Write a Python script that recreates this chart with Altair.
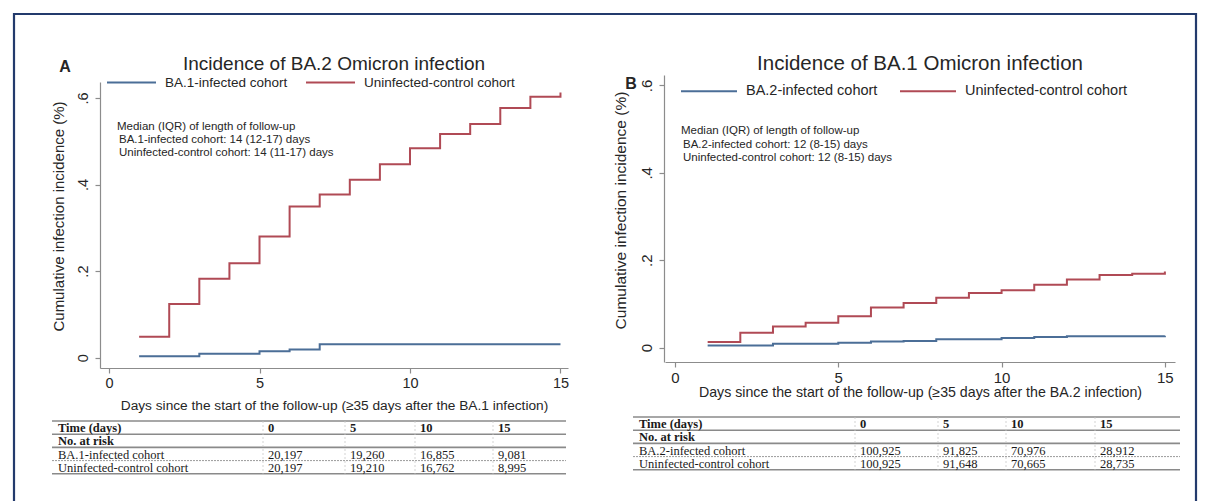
import altair as alt
import pandas as pd

W, H = 1206, 501
SANS = "Liberation Sans"
SERIF = "Liberation Serif"
BLUE = "#4b6e97"
RED = "#b04a55"
INK = "#262626"
AXIS = "#8c8c8c"
NAVY = "#233a6c"
TLINE = "#8a8a8a"

# ---------------- data ----------------
TITLE_A = "Incidence of BA.2 Omicron infection"
TITLE_B = "Incidence of BA.1 Omicron infection"
XTITLE_A = "Days since the start of the follow-up (≥35 days after the BA.1 infection)"
XTITLE_B = "Days since the start of the follow-up (≥35 days after the BA.2 infection)"
YTITLE = "Cumulative infection incidence (%)"

COH_A = ["BA.1-infected cohort", "Uninfected-control cohort"]
COH_B = ["BA.2-infected cohort", "Uninfected-control cohort"]

a_inf_days = [1, 3, 5, 6, 7, 15]
a_inf_inc = [0.003, 0.009, 0.015, 0.019, 0.031, 0.031]
a_ctl_days = [1, 2, 3, 4, 5, 6, 7, 8, 9, 10, 11, 12, 13, 14, 15]
a_ctl_inc = [0.048, 0.124, 0.182, 0.218, 0.280, 0.349, 0.377, 0.411, 0.447,
             0.484, 0.517, 0.540, 0.577, 0.603, 0.613]

b_inf_days = [1, 3, 5, 6, 7, 8, 10, 11, 12, 15]
b_inf_inc = [0.005, 0.009, 0.011, 0.014, 0.015, 0.019, 0.022, 0.024, 0.026, 0.027]
b_ctl_days = [1, 2, 3, 4, 5, 6, 7, 8, 9, 10, 11, 12, 13, 14, 15]
b_ctl_inc = [0.013, 0.034, 0.048, 0.057, 0.072, 0.092, 0.102, 0.114, 0.125,
             0.131, 0.144, 0.156, 0.166, 0.169, 0.174]

ANN_A = ["Median (IQR) of length of follow-up",
         "BA.1-infected cohort: 14 (12-17) days",
         "Uninfected-control cohort: 14 (11-17) days"]
ANN_B = ["Median (IQR) of length of follow-up",
         "BA.2-infected cohort: 12 (8-15) days",
         "Uninfected-control cohort: 12 (8-15) days"]

TAB_HEAD = ["Time (days)", "0", "5", "10", "15"]
TAB_SUB = "No. at risk"
risk_a_inf = ["20,197", "19,260", "16,855", "9,081"]
risk_a_ctl = ["20,197", "19,210", "16,762", "8,995"]
risk_b_inf = ["100,925", "91,825", "70,976", "28,912"]
risk_b_ctl = ["100,925", "91,648", "70,665", "28,735"]

ONE = pd.DataFrame({"k": [0]})


def series_df(d1, v1, d2, v2, names):
    return pd.concat([
        pd.DataFrame({"day": d1, "inc": v1, "cohort": names[0]}),
        pd.DataFrame({"day": d2, "inc": v2, "cohort": names[1]}),
    ], ignore_index=True)


def km_panel(df, names, xdom, xrng, ydom, yrng, x_axis_y, y_axis_x,
             xtitle, xtitle_y, ytitle_x, ytitle_y, leg_x, leg_y, fs, lfs, gap, sym):
    xax = alt.Axis(orient="bottom", offset=x_axis_y - H, values=[0, 5, 10, 15],
                   title=xtitle, grid=False, labelFlush=False,
                   labelFont=SANS, labelFontSize=fs + 0.5, labelColor=INK, labelPadding=3,
                   tickSize=5, tickColor=AXIS, tickWidth=1.2,
                   domainColor=AXIS, domainWidth=1.2,
                   titleFont=SANS, titleFontSize=fs - 0.3, titleFontWeight="normal",
                   titleColor=INK, titleY=xtitle_y - x_axis_y, titleBaseline="middle")
    yax = alt.Axis(orient="left", offset=-y_axis_x, values=[0, 0.2, 0.4, 0.6],
                   labelExpr="datum.value == 0 ? '0' : '.' + format(datum.value * 10, 'd')",
                   grid=False, labelAngle=270, labelAlign="center", labelBaseline="bottom",
                   labelFont=SANS, labelFontSize=fs + 0.5, labelColor=INK, labelPadding=5,
                   tickSize=5, tickColor=AXIS, tickWidth=1.2,
                   domainColor=AXIS, domainWidth=1.2,
                   title=YTITLE, titleFont=SANS, titleFontSize=fs + 1, titleFontWeight="normal",
                   titleColor=INK, titleAngle=270, titleAlign="center", titleBaseline="middle",
                   titleX=ytitle_x - y_axis_x, titleY=ytitle_y)
    leg = alt.Legend(orient="none", legendX=leg_x, legendY=leg_y, direction="horizontal",
                     title=None, symbolType="stroke", symbolSize=sym * sym, symbolStrokeWidth=2,
                     labelFont=SANS, labelFontSize=lfs, labelColor=INK, labelOffset=8,
                     labelLimit=0, columnPadding=gap, padding=0)
    return alt.Chart(df).mark_line(interpolate="step-after", strokeWidth=2).encode(
        x=alt.X("day:Q", scale=alt.Scale(domain=xdom, range=xrng, nice=False, zero=False), axis=xax),
        y=alt.Y("inc:Q", scale=alt.Scale(domain=ydom, range=yrng, nice=False, zero=False), axis=yax),
        color=alt.Color("cohort:N", scale=alt.Scale(domain=names, range=[BLUE, RED]), legend=leg),
    )


def text_at(txt, x, y, size, weight="normal", font=SANS, align="center", color=INK):
    return alt.Chart(pd.DataFrame({"t": [txt]})).mark_text(
        font=font, fontSize=size, fontWeight=weight, align=align, baseline="middle", color=color
    ).encode(x=alt.value(x), y=alt.value(y), text="t:N")


def rule_h(x1, x2, y, color, width, dash=None):
    kw = dict(color=color, strokeWidth=width)
    if dash:
        kw["strokeDash"] = dash
    return alt.Chart(ONE).mark_rule(**kw).encode(x=alt.value(x1), x2=alt.value(x2), y=alt.value(y))


def rule_v(x, y1, y2, color, width, dash=None):
    kw = dict(color=color, strokeWidth=width)
    if dash:
        kw["strokeDash"] = dash
    return alt.Chart(ONE).mark_rule(**kw).encode(x=alt.value(x), y=alt.value(y1), y2=alt.value(y2))


def table(left, right, col_x, seps, top, rh, r1_name, r1, r2, fs):
    rows = pd.DataFrame({
        "row": [0] * 5 + [1] + [2] * 5 + [3] * 5,
        "col": [0, 1, 2, 3, 4] + [0] + [0, 1, 2, 3, 4] * 2,
        "txt": TAB_HEAD + [TAB_SUB] + [r1_name] + r1 + [COH_A[1]] + r2,
        "bold": [1] * 6 + [0] * 10,
    })
    row0 = top + rh / 2 + 0.5
    yscale = alt.Scale(domain=[0, 3], range=[row0, row0 + 3 * rh], nice=False, zero=False)
    layers = []
    for k in (0, 1, 2, 4):
        layers.append(rule_h(left, right, top + k * rh, TLINE, 1.6))
    layers.append(rule_h(left, right, top + 3 * rh, "#9a9a9a", 1, [2, 1]))
    for sx in seps:
        layers.append(rule_v(sx, top, top + 4 * rh, "#c8c8c8", 0.8, [2, 2]))
    for ci, cx in enumerate(col_x):
        for b in (1, 0):
            layers.append(
                alt.Chart(rows).transform_filter(
                    f"datum.col == {ci} && datum.bold == {b}"
                ).mark_text(font=SERIF, fontSize=fs, fontWeight="bold" if b else "normal",
                            align="left", baseline="middle", color="#1a1a1a").encode(
                    x=alt.value(cx),
                    y=alt.Y("row:Q", scale=yscale, axis=None),
                    text="txt:N",
                )
            )
    return alt.layer(*layers)


df_a = series_df(a_inf_days, a_inf_inc, a_ctl_days, a_ctl_inc, COH_A)
df_b = series_df(b_inf_days, b_inf_inc, b_ctl_days, b_ctl_inc, COH_B)

panel_a = km_panel(df_a, COH_A, [-0.3, 15.25], [100, 568], [-0.024, 0.637], [368, 82],
                   368, 100, XTITLE_A, 405, 58, 216, 106, 57, 14, 13.5, 14, 49)
panel_b = km_panel(df_b, COH_B, [-0.306, 15.31], [665, 1175], [-0.033, 0.624], [362, 75],
                   362, 664, XTITLE_B, 392, 620, 210, 680, 62, 14.5, 14.5, 18, 56)

table_a = table(52, 566, [58, 268, 350, 420, 498], [263, 345, 415, 493],
                421, 13.2, COH_A[0], risk_a_inf, risk_a_ctl, 12.5)
table_b = table(633, 1180, [639, 860, 943, 1011, 1100], [855, 938, 1006, 1095],
                417, 13.2, COH_B[0], risk_b_inf, risk_b_ctl, 12.5)

decor = [
    rule_h(13, 1196, 14, NAVY, 2.2),
    rule_v(14, 13, 501, NAVY, 2.2),
    rule_v(1196, 13, 501, NAVY, 2.2),
    text_at("A", 65, 67, 16, "bold"),
    text_at("B", 631, 84, 16, "bold"),
    text_at(TITLE_A, 334, 64, 19),
    text_at(TITLE_B, 920, 64, 20.5),
]
for i, line in enumerate(ANN_A):
    decor.append(text_at(line, 117 + (2 if i else 0), 127 + 13 * i, 11.5, align="left"))
for i, line in enumerate(ANN_B):
    decor.append(text_at(line, 681 + (2 if i else 0), 131 + 13.5 * i, 11.5, align="left"))

chart = alt.layer(panel_a, panel_b, table_a, table_b, *decor).resolve_scale(
    x="independent", y="independent", color="independent"
).properties(
    width=W, height=H, autosize=alt.AutoSizeParams(type="none"), padding=0,
    background="white",
).configure_view(stroke=None)

chart.save("out.html", embed_options={"renderer": "svg", "actions": False})
